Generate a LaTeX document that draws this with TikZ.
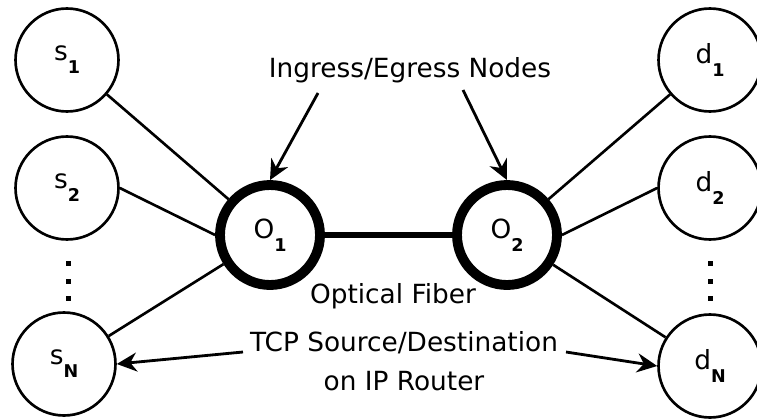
\documentclass[tikz,border=0pt]{standalone}
\usepackage{fontspec}
\setmainfont{DejaVu Sans}
\usepackage{tikz}
\usetikzlibrary{arrows.meta, positioning}

\newcommand{\nlab}[2]{#1\raisebox{-0.5em}{\fontsize{10}{10}\selectfont\bfseries #2}}

\begin{document}
\begin{tikzpicture}[
    x=0.02cm, y=-0.02cm,
    font=\fontsize{15}{18}\selectfont,
    >={Stealth[length=0.4cm, width=0.38cm]},
    % Styles
    host/.style={circle, draw, line width=1.5pt, minimum size=2.06cm, inner sep=0pt},
    optic/.style={circle, draw, line width=5.6pt, minimum size=2.0cm, inner sep=0pt},
    link/.style={line width=1.5pt},
    fiber/.style={line width=3.4pt},
    pointer/.style={->, line width=1.6pt},
    caption/.style={inner sep=1pt, align=center}
]
\useasboundingbox (0,0) rectangle (757,419);

% --- Sources (Left) ---
\node[host] (s1) at (67,60) {\nlab{s}{1}};
\node[host] (s2) at (67,188) {\nlab{s}{2}};
\node[host] (sN) at (64,364) {\nlab{s}{N}};

% --- Destinations (Right) ---
\node[host] (d1) at (710,60) {\nlab{d}{1}};
\node[host] (d2) at (710,188) {\nlab{d}{2}};
\node[host] (dN) at (710,366) {\nlab{d}{N}};

% vertical dots
\foreach \y in {263,281,298} {
    \fill (65.5,\y-2.5) rectangle ++(5,5);
    \fill (707.5,\y-2.5) rectangle ++(5,5);
}

% --- Optical Nodes ---
\node[optic] (o1) at (270,235) {\nlab{O}{1}};
\node[optic] (o2) at (507,235) {\nlab{O}{2}};

\draw[fiber] (o1) -- (o2);

% Access links
\draw[link] (s1) -- (o1);
\draw[link] (s2.east) -- (o1.west);
\draw[link] (sN) -- (o1);
\draw[link] (d1) -- (o2);
\draw[link] (d2.west) -- (o2.east);
\draw[link] (dN) -- (o2);

% --- Labels ---
\node[caption] (ingress) at (410,70) {Ingress/Egress Nodes};
\coordinate (ing1) at (318,93);
\coordinate (ing2) at (463,90);
\draw[pointer] (ing1) -- (o1.north);
\draw[pointer] (ing2) -- (o2.north);

\node[caption] (fiberlbl) at (393,296) {Optical Fiber};

\node[caption] (tcp) at (404,343) {TCP Source/Destination};
\node[caption] (router) at (404,381) {on IP Router};
\coordinate (tcp1) at (243,352);
\coordinate (tcp2) at (566,352);
\draw[pointer] (tcp1) -- (sN.east);
\draw[pointer] (tcp2) -- (dN.west);

\end{tikzpicture}
\end{document}
